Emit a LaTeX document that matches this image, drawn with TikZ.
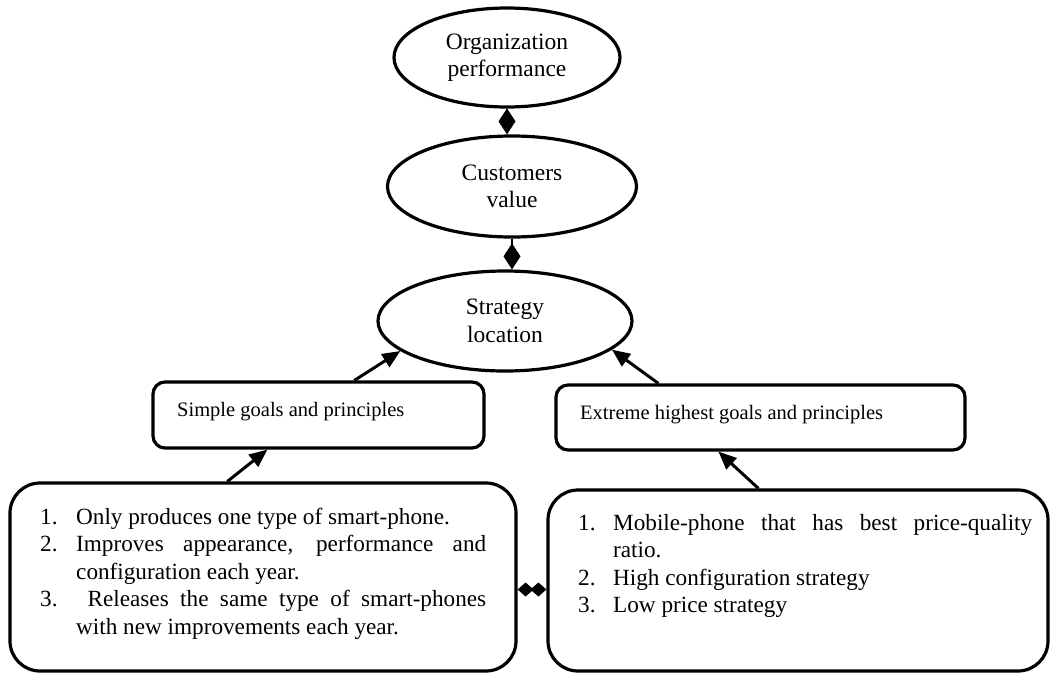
\documentclass[tikz,border=0pt]{standalone}
\usepackage{fontspec}
\setmainfont{Liberation Serif}
\usetikzlibrary{arrows.meta,shapes.geometric,calc}
\newcommand{\myitem}[3]{\hangindent=#1\hangafter=1\noindent\makebox[#1][l]{#2}#3\par}
\begin{document}
\begin{tikzpicture}[x=1pt,y=-1pt,
  ell/.style={ellipse, draw, line width=3.2pt, inner sep=0pt, align=center, font=\fontsize{23.5}{27.5}\selectfont},
  sbox/.style={draw, line width=3.2pt, rounded corners=12pt, inner sep=0pt},
  bbox/.style={draw, line width=3.2pt, rounded corners=30pt, inner sep=0pt},
  arr/.style={line width=3pt, -{Triangle[length=18pt,width=15pt]}},
  dia/.style={line width=2pt, -{Diamond[length=26pt,width=17pt]}},
  lbl/.style={anchor=base west, inner sep=0pt, font=\fontsize{20.5}{24}\selectfont},
  lst/.style={anchor=base west, inner sep=0pt, font=\fontsize{23.2}{27.6}\selectfont},
]
\useasboundingbox (0,0) rectangle (1050,673);

\node[ell, minimum width=226pt, minimum height=99pt] (e1) at (507,57.5) {Organization\\performance};
\node[ell, minimum width=249pt, minimum height=101pt] (e2) at (512,186.5) {Customers\\value};
\node[ell, minimum width=254pt, minimum height=100pt] (e3) at (505,321) {Strategy\\location};

\node[sbox, minimum width=331pt, minimum height=66pt] (sbl) at (318.5,415) {};
\node[sbox, minimum width=409pt, minimum height=65pt] (sbr) at (760.5,417.5) {};
\node[bbox, minimum width=506pt, minimum height=188pt] (bl) at (263,577) {};
\node[bbox, minimum width=500pt, minimum height=181pt] (br) at (798,580.5) {};

\node[lbl] (tsbl) at (177,416) {Simple goals and principles};
\node[lbl] (tsbr) at (580,419) {Extreme highest goals and principles};

\node[lst] (tbl) at (40,524) {\parbox[t]{446pt}{\hyphenpenalty=10000\exhyphenpenalty=10000\tolerance=9999
\myitem{36pt}{1.}{Only produces one type of smart-phone.}
\myitem{36pt}{2.}{Improves appearance, performance and configuration each year.}
\myitem{36pt}{3.}{\ Releases the same type of smart-phones\linebreak with new improvements each year.}}};

\node[lst] (tbr) at (578,530) {\parbox[t]{454pt}{\hyphenpenalty=10000\exhyphenpenalty=10000\tolerance=9999
\myitem{35pt}{1.}{Mobile-phone that has best price-quality ratio.}
\myitem{35pt}{2.}{High configuration strategy}
\myitem{35pt}{3.}{Low price strategy}}};

\draw[dia] (e1.south) -- (e1.south |- e2.north);
\draw[dia] (e2.south) -- (e2.south |- e3.north);
\draw[line width=2pt, {Diamond[length=16pt,width=14pt]}-{Diamond[length=16pt,width=14pt]}] ([yshift=-12.5pt]bl.east) -- ([yshift=-12.5pt]bl.east -| br.west);

\draw[arr] ([xshift=203pt]sbl.north west) -- (e3.196);
\draw[arr] ([xshift=219pt]bl.north west) -- ([xshift=116pt]sbl.south west);
\draw[arr] ([xshift=104pt]sbr.north west) -- (e3.345);
\draw[arr] ([xshift=212pt]br.north west) -- ([xshift=164pt]sbr.south west);
\end{tikzpicture}
\end{document}
